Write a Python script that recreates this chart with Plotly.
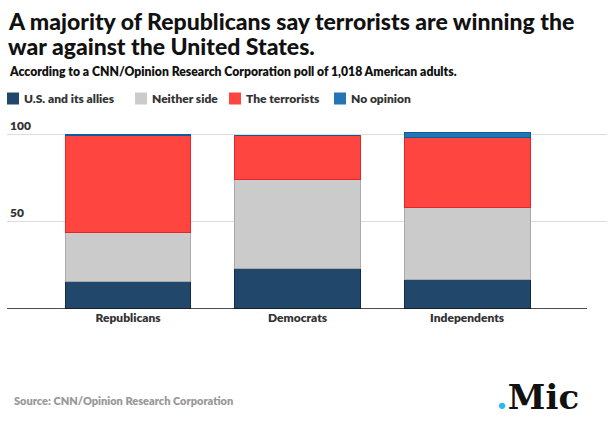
import plotly.graph_objects as go

# ---- data ----
categories = ["Republicans", "Democrats", "Independents"]
series_names = ["U.S. and its allies", "Neither side", "The terrorists", "No opinion"]
us_allies = [16, 23, 17]
neither_side = [28, 51, 41]
terrorists = [55, 25, 40]
no_opinion = [1, 0, 3]
tick_vals = [0, 50, 100]
tick_text = ["", "50", "100"]

title_lines = ["A majority of Republicans say terrorists are winning the",
               "war against the United States."]
subtitle = "According to a CNN/Opinion Research Corporation poll of 1,018 American adults."
source = "Source: CNN/Opinion Research Corporation"

# ---- style ----
fills = ["#21476b", "#cbcbcb", "#ff4540", "#2375b3"]
edges = ["#0d2d4a", "#aaaaaa", "#e3262c", "#0b5c99"]
FONT = "Lato"

W, H = 616, 421
L, R, T, B = 7, 607, 115, 309


def px(x):
    return (x - L) / (R - L)


def py(y):
    return (B - y) / (B - T)


fig = go.Figure()
for name, vals, fc, ec in zip(series_names, [us_allies, neither_side, terrorists, no_opinion], fills, edges):
    fig.add_trace(go.Bar(x=categories, y=vals, name=name,
                         marker=dict(color=fc, line=dict(color=ec, width=1)),
                         showlegend=False, hoverinfo="skip"))

ann = []
# title
ann.append(dict(text=title_lines[0], x=px(7), y=py(21), xanchor="left", yanchor="middle",
                borderpad=0, font=dict(family=FONT, size=23, color="#111111", weight=900)))
ann.append(dict(text=title_lines[1], x=px(7), y=py(46), xanchor="left", yanchor="middle",
                borderpad=0, font=dict(family=FONT, size=23, color="#111111", weight=900)))
ann.append(dict(text=subtitle, x=px(7), y=py(72), xanchor="left", yanchor="middle",
                font=dict(family=FONT, size=12.2, color="#111111", weight=800)))
# legend
legend_x = [7, 135, 229, 334]
shapes = []
for name, fc, ec, lx in zip(series_names, fills, edges, legend_x):
    shapes.append(dict(type="rect", xref="paper", yref="paper",
                       x0=px(lx), x1=px(lx + 12), y0=py(104.5), y1=py(92.5),
                       fillcolor=fc, line=dict(width=0)))
    ann.append(dict(text=name, x=px(lx + 15), y=py(98), xanchor="left", yanchor="middle",
                    font=dict(family=FONT, size=12, color="#333333", weight=800)))
# source & logo
ann.append(dict(text=source, x=px(12), y=py(400), xanchor="left", yanchor="middle",
                font=dict(family=FONT, size=11, color="#999999", weight=800)))
ann.append(dict(text="<span style='color:#29b6f6'>.</span>Mic", x=px(494), y=py(397),
                xanchor="left", yanchor="middle",
                font=dict(family="DejaVu Serif", size=34, color="#111111", weight=900)))
for a in ann:
    a.update(xref="paper", yref="paper", showarrow=False)

# black baseline
shapes.append(dict(type="line", xref="paper", yref="y", x0=0, x1=px(587), y0=0, y1=0,
                   line=dict(color="#111111", width=1.5)))

fig.update_layout(
    width=W, height=H,
    margin=dict(l=L, r=W - R, t=T, b=H - B, pad=0),
    paper_bgcolor="white", plot_bgcolor="white",
    barmode="stack", bargap=0.258,
    annotations=ann, shapes=shapes,
    xaxis=dict(range=[-0.714, 2.825], showgrid=False, zeroline=False, showline=False,
               ticks="", tickfont=dict(family=FONT, size=12, color="#333333", weight=800)),
    yaxis=dict(range=[0, (B - T) / 1.75], tickvals=tick_vals, ticktext=tick_text,
               showgrid=True, gridcolor="#dddddd", gridwidth=1, zeroline=False,
               ticklabelposition="inside top",
               tickfont=dict(family=FONT, size=12, color="#333333", weight=800)),
)

fig.write_html("out.html", config={"displayModeBar": False, "staticPlot": True},
               post_script="document.body.style.margin='0px';document.body.style.overflow='hidden';")
